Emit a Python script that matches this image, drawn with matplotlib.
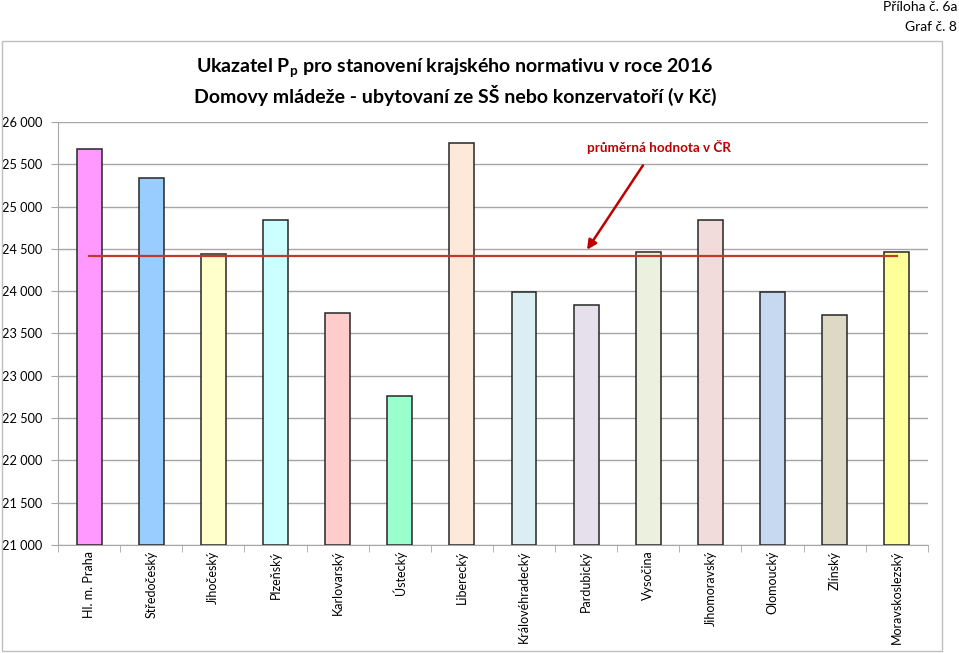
import matplotlib
matplotlib.use("Agg")
import matplotlib.pyplot as plt
import matplotlib.patches as mpatches

plt.rcParams["font.family"] = ["Lato", "DejaVu Sans"]

regions = ["Hl. m. Praha", "Středočeský", "Jihočeský", "Plzeňský", "Karlovarský",
           "Ústecký", "Liberecký", "Královéhradecký", "Pardubický", "Vysočina",
           "Jihomoravský", "Olomoucký", "Zlínský", "Moravskoslezský"]
values = [25680, 25340, 24440, 24840, 23745, 22765, 25750,
          23990, 23835, 24460, 24840, 23995, 23720, 24460]
bar_colors = ["#FF99FF", "#99CCFF", "#FFFFCC", "#CCFFFF", "#FFCCCC", "#99FFCC", "#FDE9D9",
              "#DAEEF3", "#E5E0EC", "#EBF1DE", "#F2DCDB", "#C6D9F1", "#DDD9C4", "#FFFF99"]
cr_average = 24415
y_ticks = [21000, 21500, 22000, 22500, 23000, 23500, 24000, 24500, 25000, 25500, 26000]

GRID = "#A6A6A6"
DARK_RED = "#C00000"

fig = plt.figure(figsize=(9.59, 6.53), dpi=100)
ax = fig.add_axes([0.0605, 0.1654, 0.907, 0.6478])

# chart frame
fig.patches.append(mpatches.Rectangle((2 / 959, 1 - 651 / 653), 940 / 959, 610 / 653,
                                      transform=fig.transFigure, fill=False,
                                      edgecolor="#BFBFBF", linewidth=1))

x = range(len(regions))
ax.bar(x, [v - 21000 for v in values], bottom=21000, width=0.4,
       color=bar_colors, edgecolor="#262626", linewidth=1.1, zorder=3)

# CR average line from first to last bar centre
ax.plot([0, len(regions) - 1], [cr_average, cr_average], color="#C0392B",
        linewidth=1.6, zorder=4)

ax.annotate("", xy=(7.99, 24463), xytext=(8.94, 25515),
            arrowprops=dict(arrowstyle="-|>", color=DARK_RED, lw=1.8,
                            mutation_scale=14), zorder=5)
ax.text(9.17, 25704, "průměrná hodnota v ČR", color=DARK_RED, fontsize=9.7,
        fontweight="bold", ha="center", va="center")

ax.set_xlim(-0.5, len(regions) - 0.5)
ax.set_ylim(21000, 26000)
ax.set_yticks(y_ticks)
ax.set_yticklabels([f"{t:,}".replace(",", " ") for t in y_ticks], fontsize=9.2)
ax.yaxis.grid(True, color=GRID, linewidth=1, zorder=0)
ax.set_axisbelow(True)

ax.set_xticks(list(x))
ax.set_xticklabels(regions, rotation=90, fontsize=9, va="top")
ax.tick_params(axis="x", length=0, pad=4)
ax.set_xticks([i - 0.5 for i in range(len(regions) + 1)], minor=True)
ax.tick_params(axis="x", which="minor", length=5, color=GRID)
ax.tick_params(axis="y", length=5, color=GRID, pad=6)

for side in ["top", "right"]:
    ax.spines[side].set_visible(False)
for side in ["left", "bottom"]:
    ax.spines[side].set_color(GRID)

fig.text(455 / 959, 1 - 68 / 653, "Ukazatel P$\\mathregular{_p}$ pro stanovení krajského normativu v roce 2016",
         fontsize=14, fontweight="bold", ha="center", va="center")
fig.text(455 / 959, 1 - 95 / 653, "Domovy mládeže - ubytovaní ze SŠ nebo konzervatoří (v Kč)",
         fontsize=14, fontweight="bold", ha="center", va="center")

fig.text(957 / 959, 1 - 7 / 653, "Příloha č. 6a", fontsize=10, ha="right", va="center")
fig.text(957 / 959, 1 - 27 / 653, "Graf č. 8", fontsize=10, ha="right", va="center")

fig.savefig("out.png", dpi=100)
